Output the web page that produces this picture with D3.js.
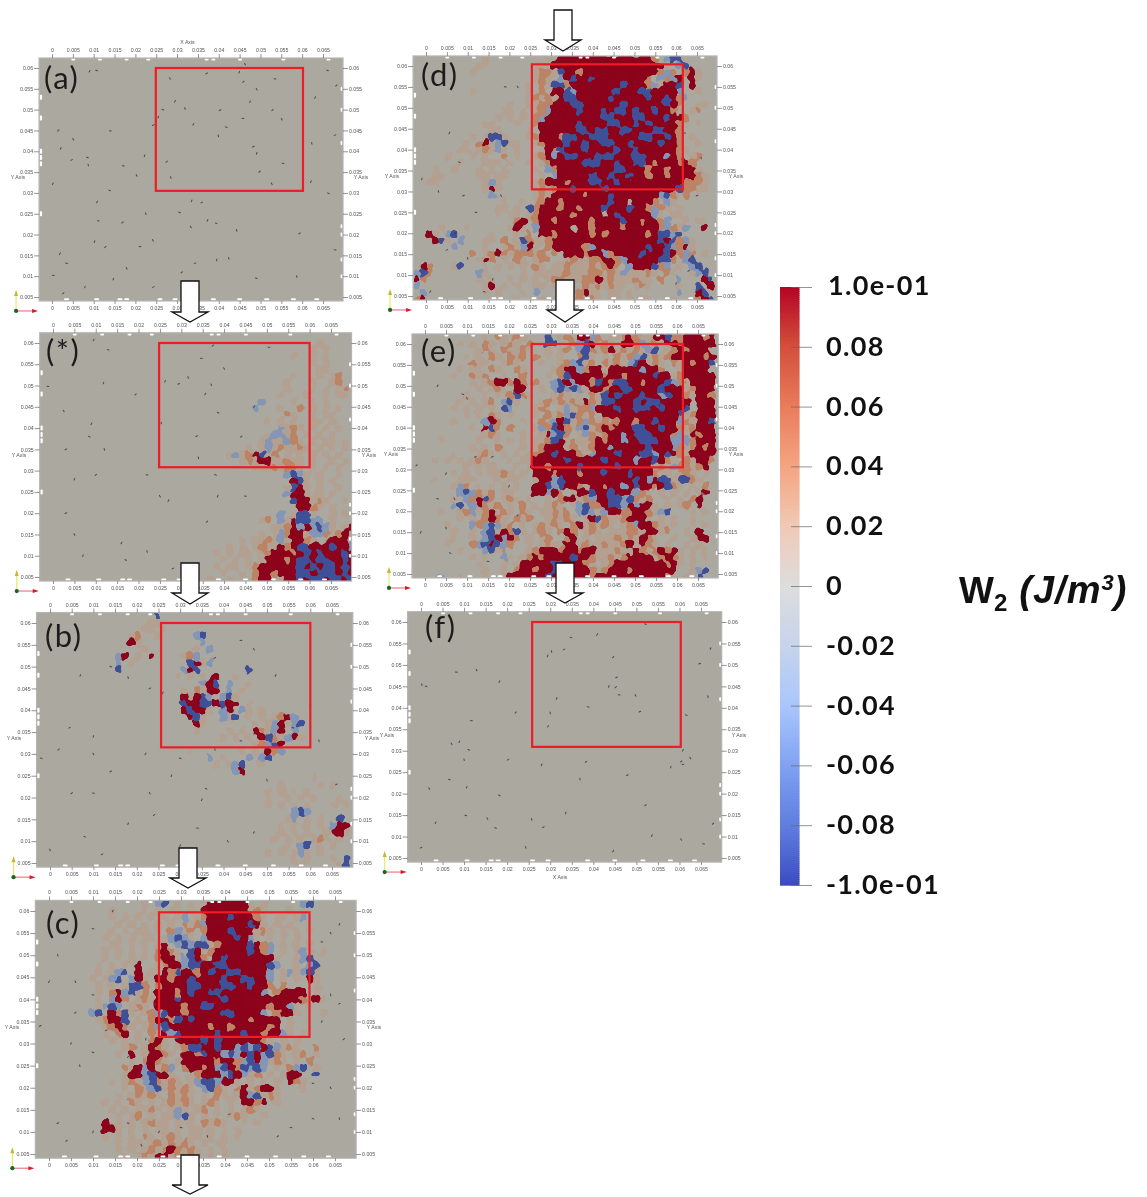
<!DOCTYPE html>
<html><head><meta charset="utf-8">
<script src="https://cdn.jsdelivr.net/npm/d3@7/dist/d3.min.js"></script>
<style>
html,body{margin:0;padding:0;background:#fff}
svg{display:block}
.tick text{font-family:"Liberation Sans",sans-serif;font-size:5.2px;fill:#555}
.tick line{stroke:#666;stroke-width:.7}
.domain{display:none}
</style></head><body>
<svg id="chart" width="1147" height="1197"></svg>
<script>
// ---------- data ----------
const xTicks=[0,0.005,0.01,0.015,0.02,0.025,0.03,0.035,0.04,0.045,0.05,0.055,0.06,0.065];
const yTicks=[0.005,0.01,0.015,0.02,0.025,0.03,0.035,0.04,0.045,0.05,0.055,0.06];
const tickText=v=>v===0?"0":String(+v.toFixed(3));
const barTicks=[0.1,0.08,0.06,0.04,0.02,0,-0.02,-0.04,-0.06,-0.08,-0.1];
const barLabels=["1.0e-01","0.08","0.06","0.04","0.02","0","-0.02","-0.04","-0.06","-0.08","-1.0e-01"];
const barColors=["#b40426","#d3503c","#e97c5c","#f4a582","#f0c9b5","#dddddd","#c6d4ec","#aac6fb","#81a2f2","#5f7de0","#3b4cc0"];
const classValues={"-":0.01,"l":-0.04,"+":0.036,"R":0.1,"B":-0.088};
const classOrder=["-","l","+","R","B"];
const panelNames=["a","*","b","c","d","e","f"];
const panelLabels=["(a)","(*)","(b)","(c)","(d)","(e)","(f)"];
// red windows: xmin,xmax,ymin,ymax
const window_a=[0.0249,0.0602,0.0305,0.06];
const window_star=[0.0248,0.0600,0.0308,0.06];
const window_b=[0.0256,0.0600,0.0315,0.06];
const window_c=[0.0250,0.0592,0.0315,0.0597];
const window_d=[0.0254,0.0616,0.0305,0.0604];
const window_e=[0.0254,0.0614,0.0305,0.0600];
const window_f=[0.0258,0.0603,0.0309,0.0600];
// specks, in thousandths of an axis unit
const specks_a=[[9,59.2],[10.7,59.4],[28.3,57.5],[37.1,58.7],[44.9,59],[45.9,56.7],[53.5,57.4],[49.1,54.9],[29.5,52],[26.6,50],[31.9,50.3],[40.3,49.9],[47.5,51.9],[52.9,49.9],[45.8,47.9],[55.1,47.7],[33.9,46.5],[41.8,45.8],[39.9,43.7],[24.3,46.3],[25.5,48.2],[1.5,45],[14,44.9],[5.1,42.9],[2.1,40.7],[8.5,38.5],[8.7,36.7],[4.7,37.9],[22.2,38.9],[27.5,37.5],[17.1,36.5],[20.3,34.2],[0.2,32.2],[13.8,30.6],[28.5,33.7],[48.3,41.1],[49.1,39.5],[49.8,35.1],[55.4,37.1],[52.7,32.2],[62.1,32.7],[66.3,29.9],[62.3,41.9],[67.9,43.9],[63.1,52.9],[68.2,55.8],[66.1,59.4],[46.3,60.9],[10.8,27.8],[30.6,25.3],[22.5,25],[35.9,27.7],[33.5,28.1],[16.9,22.9],[11.1,23.3],[33.3,21.8],[37.3,23.4],[39.4,22.7],[44.3,21],[59.4,20.3],[10.2,18.3],[12.8,17],[21.1,17.1],[24.2,18.6],[1.9,15.4],[3.5,13.1],[42.4,14.3],[34.3,13.1],[39.5,13.9],[31.1,10.9],[0.3,10.2],[17.9,11.9],[14.7,9.3],[49,9.5],[58.7,9.9],[24.3,7.4],[7.9,7.4],[2.7,5.9],[67.9,16.3]];
const specks_star=[[9.5,60.7],[12.9,58.4],[31.6,51.9],[29.4,50.4],[26.2,51],[37.4,59.4],[34.7,56.4],[37,50.2],[35.6,48],[38.6,43.6],[25.3,41.2],[33.6,38.1],[11.8,50.6],[19.3,47.9],[-1.2,49.8],[2.5,44],[9,41],[8.5,38],[12,35],[3,35],[5,28],[10,29],[22,29],[25,24],[27,23],[38,29],[34,33],[3,20],[38.5,24],[36,18],[45,24],[5,15],[16,13],[17,9],[22,11],[28,7],[7,10],[44,38],[50.5,59],[40,54],[47,45]];
const specks_b=[[7,48],[14,50],[18,47.5],[23,45],[26,44],[38,52],[44,56],[47,54],[52,48],[56,36],[62,33],[4.5,36],[10,34],[2,31],[-2,29],[10,30],[22,30],[30,29],[38,31],[14,26],[28,25],[5,21],[10,21],[23,21],[35,19.5],[36,22],[50,24],[66,23],[18,14],[24,16],[34,13],[41,10],[47,12],[8,11],[0,8],[12,7],[30,9],[54,36],[44,33],[60,41]];
const specks_c=[[14.5,60],[10,56],[2,50],[-2,34],[5,30],[6,37],[10,41],[6,44],[0,44],[10,28],[7,25],[13,33],[22,31],[18,27],[62,53],[64,55],[66,57],[60,40],[64,41],[66,39],[62,35],[67,31],[60,21],[64,20],[55,23],[60,13],[66,13],[2,12],[10,10],[4,8],[18,12],[21,7],[25,10],[30,11],[36,9],[41,14],[46,16],[52,9],[55,11]];
const specks_d=[[5.6,44],[8,37],[3,30],[9,29],[-1,33],[7,20],[19,55],[22,55],[58,46],[62,44],[66,38],[65,29],[60,8],[63,11],[12,25],[18,29],[1,6],[14,6],[10,14],[5,16],[16,9]];
const specks_e=[[3,50],[9,48],[10,47],[16,33],[5,29],[-2,31],[3,23],[7,23],[-1,15],[6,10],[5,16],[12,33],[20,26],[22,19],[15,8],[24,8]];
const specks_f=[[40.9,57.1],[34.8,56.4],[30.3,53.1],[33.2,53.6],[29.4,52.1],[44.6,51.8],[8.2,48.3],[12.9,48.8],[18.2,46.1],[1.2,45],[0.2,45.4],[45.4,47.1],[43.6,45],[45.2,44.8],[46,43],[49.8,42.9],[31.5,42.2],[38.8,40.2],[30,38.8],[50.8,39.1],[29.5,35.7],[22,38.9],[11.7,37],[7.1,31.6],[8.9,32.1],[11.1,30.2],[10,27.9],[20.2,27.9],[28,26.7],[38.3,27.4],[6.6,23.3],[1.9,21.2],[10.6,21.5],[18.2,19.6],[36.9,23.4],[47.9,24.3],[58,26.2],[60.4,27.5],[60.8,26.8],[62.5,28.3],[60.8,30.1],[61.6,38.3],[66.6,42.6],[64.7,50.3],[67.2,53.8],[52.1,17.3],[10.4,14.9],[15.4,14.2],[3.4,13.2],[17.3,12],[24.3,7.5],[0,7.4],[53.6,10.2],[67.8,13],[65.6,8.3],[60.4,9.3],[44.6,6.6],[52.1,59.5],[25.7,14],[28.4,12.2],[33.6,15.5]];
const speckAngles=[-60,20,75,-25,110,-40,10,60];
// white flecks at the mesh edge, shared by all panels
const edgeTop=[5.1,11.5,17.9,23.1,37.1,38.7,45.1,55.5,66.3];
const edgeBottom=[3.5,10.7,16.3,17.9,25.9,29.5,38.7,45,51.5,57.9,63.5];
const edgeRight=[55,50,42,22,20,14,10];
const edgeLeft=[53,48,40,38.5,37,25];
// fields: rows run from y=0.0625 downwards, columns from x=-0.003 rightwards
const field_star=[
"................................................",
"...........................................-....",
"..........................................-.-...",
".......................................-..-.-...",
"..........................................-.-...",
"...........................................--...",
".......................................-...-.-+.",
"......................................-...-..-+.",
"......................................-...-.-.-+",
".....................................-...-..-.--",
"..................................l....-..-.-...",
".................................l...-..+.-.-.-.",
"......................................+-..-.--..",
"...................................-.-.-..--.-..",
".....................................l-+-.-.-.-.",
"...................................-ll-+.-.-.-..",
"..................................-l--l+-.-.--.-",
"................................-.-l-+--+-.-.-.-",
".............................-l-+RB-+.-.-.-.-.-.",
"...............................-+-RR--+--.-..-.-",
".................................---+-++-.-.-.-.",
"......................................lBl-.-..-.",
".......................................RB-.-.-..",
"......................................-BR-.-..-.",
"......................................lRR-.-.-..",
".......................................BRR-+-..-",
"........................................RR+-.-..",
".....................................l.-BB-..-.-",
"..................................-+.l-RBBll.-..",
"....................................--+RlRlBl-.-R",
"..................................-.-l+RR-ll+-+R-",
"...............................-.--+-l-RR+-.-RRR-",
".............................-.-.-+--R+RBBRRRBRRl",
"...........................-.-.--.-+RRR+RBRBRRRBR",
"............................-.-.-.-RRR+RBBRBBRRBR",
"...........................-.--.-+RRRRRRBRBRBBRBR",
"............................-..-.+RR+RRRBBRBBBRBR",
"..........................-..-...+RR.-RRBRBBRBBRB"];
const field_b=[
"..................B.............................",
".................--.............................",
"................--.-............................",
"..............-+..-.....lB......................",
"..............R-.........l......................",
"................-.......-.l.....................",
"............lR.-.R....-+l.......................",
"............l.-........BR-l.....................",
"............B.........lRB.......B...............",
".....................-.-.-.R..-.................",
".........................lRB.l..-...............",
"......................-.+-RR.l.-................",
"......................R-RBl.lB-.................",
"......................BRRBBRBRR.-...............",
"......................RBRR-.lR.l-.-.............",
".......................RB-..l-B.-.-.-+Rl........",
"........................R-.......-.-lR-lB.......",
"........................-....-.-.R+-lR.l........",
"............................-.-.-.RB+-lR-.......",
".................................-+lBR..........",
".......................-.......-.-.R+l..........",
"..........................l.-...l.lB............",
"...........................-.-lB..-.............",
"..............................lR................",
"..........................................-.....",
".....................................-.....-.-..",
"...................................-.-.-.-......",
"...................................-..-.-.-...-.",
"...................................-.-.-.-...-.-",
".......................................lBl......",
"......................................-l.-.-..B.",
".....................................-.-.-.-.lRR",
".....................................-.-.-..-RR-",
"....................................-.-.-.-+-.-.",
"......................................-.lB.-.-..",
"...................................-.-.-l-.-....",
".......................................-.-...-.B",
"........................................-.....-B"];
const field_c=[
"................-.lB.-.-.-RRRRRR-.-.....lB......",
"...........-....-.-.--.-.RRRRRRR-+-...-.-.......",
"...........-.-.-.-.-.-l.-+RRRBRRR+-.--.-l.......",
"............-.-.-.-.-.+-+lRRRRRRBR-.-.-.........",
"...........-.-.--.-.+l-+.+RRRBRRR-+-.-.-.-......",
"..........-.-.-.--.-lBl-.lRRRRBRl-.-.-.-........",
"...........--.-.-.-R.lBlBB-+RRRRBR+l.-.-.-......",
"..........-.-.-.-.+R+-.BR-+RRRRRBR+l.-.-l-.-....",
"..........-.-.-.-.+RR-lBR+.RBRRRRRRR-..-lB......",
".........-.-.-.R..-+RRlBBRRBBRRRRRRBl..-.lB.....",
".........-.-lB.R.-.R+BRR+RBRRBBRRRRl.-l-lB-.....",
"........-.-lB.lR-.RR+RRBRRRRBRRBBRRl.-.-.R-.....",
".........-.-.-BB+.+RRRRBBRRRBBRRBRR+.+....-.....",
".........-.+RlB-+.RRR+RBRRBBRRRRRRl.+RRRR.-.....",
".........-.lR+.-+-RRRBRRRRRRBRRRRRRRRRRR+-R-....",
".........-lBl.-+-.RRRR+RRBBRRRRRRRR+RRl-.-......",
"........lB.R+B-.-+lBRR+RRRRRBBRRRRl.+RR-...-....",
".........-+RRB.-.+RR+BRBRRRRRRRR+RRRR.-.........",
"..........-+R+-.-+lBRRRRRR+RR+RRRRR+R.-.........",
"..........-.+R.-.+-RlBRRRRRBRRRBRR+RRl-.-.......",
"...........-.-.-.+R-.RRRRBRBRRRRRR+-.-.-........",
".............-+.-R+-.-+BBRRBRRlBlBRBl-+-..+.....",
"............-.R.-RR+-.RR+BRRlBlRBRlB+-.-+.-.....",
"..............-.+R+-.-RRRRR+RR+lBRl-+-.-.+......",
".............+-RlR-+l.+RR+RlBR+BlBl.-.+lB.-.....",
".............-RRlBRR-..-+RRRlBRl-+.-.-RR..B.....",
"...........-.-+-lB+-+-.-lBBlRR-.-.-.-.R+-.......",
".............-.+-lB-+-+-.lB+-.+R-+RR-...-.......",
"............-.-+-+-.+-+-.-.+-.-RlB-+-...........",
"..........-.-.+-.-.-+-+-.-+-.-.RR+R.-...........",
"...........-.-.--+-.-l-.-+.-.-.-+-..............",
"............-.-+.-.--lB-.-.-.-+-..-.............",
"..........R.-.-.-+--.-.-.+-+-..-.-..............",
"..........RR-.-.-.--.-.--.-.-.-.................",
"..........-.-.-.+-.-+-.--.-.-.-.................",
"............-.--.-+-+-+-.-.--...................",
"............-.-.-+-+R+-+-.-.-...................",
".............-.-+-RR-+-+-.-.-..................."];
const field_d=[
"...........-.........-.RRRRRRRRRRRRRRR+.lBB.....",
"..........--........-.RRRRRRRRRRRRRRRRRR-.lB....",
".........-.........-++-BRR+RRRRRRRRRRRR+l+.+R-..",
"...................-+-.lRBRRBRRRRRRRR+.l+lR.R-..",
"..................-.+-BB+RRRRRRRRBRRR+l-RRB.R...",
".........-........-.+.RRBlRRRRRRBRRRBBRRRRl..-..",
"..................-+-+-RBBRRRRRBRRRRRBRRBR+l....",
"...............-..--++RRRBBRRRRRRBRRRRRRBR+..--.",
"..............--.-.-+lRRRRBRRRBRBBRBRRBRR+-.-+..",
".............-.-.-.+lRRRRRRRRRBBRRRBBRRRBRR+....",
"...........--...-..+RRRRRRBRRRRBBRRBRBRRRR+..-..",
"............--....-.RRRRRRBBRBBRRBBRRRBBRR+.....",
".........-.-BB-...-+RRR+BBRRBBBRRRRRBBRRBR+.-...",
"........-.+R-lB--..-+RRRBRRBRRBBRRBRRRRBRR+..-..",
".......--.-+-l-.-...-R+BRRRBRRRRBRRBRRRRRR+-....",
".....-...-.-..+.-..-+RlRBBRRRBBBRRRBBRRRlR+.-+..",
".......-...---.-..-.-+RRRRRBBBRRBRRBBR+RRR+R+...",
"...-..-...-.-.-....-.l+RRRRRRRRRBBRRR+RR+RRRR-..",
"...--.....--.--.....-.lRRRRRBRRBRRBRR+RR+RRRR+-.",
"..--.......-l-.....-+RRR+RRRBBRRBRRRRRRRRRR+++-.",
"...........-R-.....-+-+RRBRRRRBRRRRRRRRRRRB++--.",
"............l......-+-RRRRR+RRRBRRRRRRRlB+-+....",
"..............-..-.-+RR+RRRRRRRBRR.RRR+-l-......",
".............--.-.B+RRR+RR+RRRBRRRBRR+l+-.-.....",
".............-.--.-+RRRRR+RRRR.RBRRRRRl-.--.....",
"................+R-+RR+RRRRR+RRRRBRR+RR+l..-.--.",
"....-...-......-R-.lRRRRR.RR+RRRR+RRRRR+l+-l..R.",
"..R-.lB.....-...-.+.RR+RRRRR+R+RRRRRR+RBBlB.....",
"...RB-.l...--.+.-B+--+RRRRRRRRRRRRRRRRRBRB+l-...",
"......l....-..-+-lR-.+RRRRR+lRRRRRRRRBRRBl+R-...",
".........+.-+R+-+++-+.+.RRR+RRl+RRRRBRRRBR+l+.-.",
"..........-R+.-.+-.-++..-+--++RR+lRRRRRBB+.lB...",
".R+...-B...-.-.-.-.+-.--+---+-+R+.lRRRB+l.-.lB..",
"lB+.......l-.....-.-----+---++-+-l---+-.+-..-lB.",
"R+........-.-..-.-.-.-++---++R-+---+--.+..l...RB",
"l..........-R.-.-..--.-.+-.+-+-+--.-+-....-..B.R",
".l.........-.-...-.l...-+-+R--.--.-.......l..RB.",
"+R..............-...-...-.+.+-.--.-.--...-...+RB"];
const field_e=[
"...........-.+-.+-...B.-+.RRl+.--+R+--RRB++RRR+R",
".......-.-.+-.-+-.+..BB..+lBR-+-.RR+l-+-RR+RRRRR",
"..........-+-.+--+-..-.-+.lB+-+R-+-+-lB.-+R+RRR.",
"........-.-.+-.+-+.+.-.-..+B-.-.+-+lB-+-+RRRRR+R",
".........+--..-+-...-..-+lB-+.+-+-lBR-+-.+-R+RRB",
".......-.--.+-..+-....-+RRl+RR-RRRRRlRR+..-RRRR.",
"......-..+-+..-..+...-.+BRRRRR+RR+RRRRBRR-+RRRRR",
".........-.-+RR+R+.+..lBRlRR+BR+BBRR+RRRBl+-RRRR",
"..........-.-+-.RR..-.lBlBl-RR+RRBBRRRRBRRR-+RRR",
"........-..-.-.+B+-...-+-.-.+-BRBRRRBRRlBRR+-RR+",
".......-.-.-+.lB-...-+-+-+-R+-BBRRRBRBBRRRRR.RRR",
"......-.-.-.-.Bl...-+-.-l-++lRRRBRRBBBRBRRRB.RRR",
"........-.-.+-.-...-.+-+lB+-+.RRRRRRRRRRRRB-+RRR",
"......-....lR+...-..+-lRB-+l+-+-+RR+RRBRRRl+-RRB",
".........-.RB+.+...-l+BR+-lB-+R+RRRBBRRBRR+-+RRR",
"...........-+-...-..-RlB+.-l+-+RRlRBBBRRR+l-R+RR",
"....-.....-..-.-.-.--+BR-+--+R+RRlRRBBBRRlll+RRR",
".........-.-.+...-.-+RRR-+.-+RRlRRRRRBRRRl+-+R+R",
"......-...-+-.-.-.-+RRBRRR+-lRRRBRRRBBlRBR+-RRRR",
"...-.-.-.-+-...-.--RRRRRBRRRRRBRRRRlRRBR+-.+-RR+",
"........-.-.-...-.-RR+RRRRBRRRRRBRRRRR-+-l++-+R.",
"......-.-.-.--+-.-.RRR+RRR+RRRBRRRBRRR+--.-+-.-.",
"...-...---...-.--..-RRlBRRRRRRRRRRRBRlRBB-BB+-..",
"......-l+.-.-.-.-..RRBlBRR+-RR+RRlRBRR+RB+-.-.+.",
".......lBl+-+.--...RRlR+.-RRBRRBRRRl+-.-.-.-.-R.",
"......-.l+RB+.-+-.-..-.+RR-+lRRBBlB+-+..-.-.+R..",
"......lB.lR+-+.-.+.-.-+-.-lB++RBBlRlRR-.-.-+.R..",
"....-..-+l-+R-+-.+-.--+-+.lBl-lRR++RR+-lB...-.-.",
".......-.-.+R+-.+-+..-+-+-.-RB+--+RRR-.-.-..-...",
".....-...l+lBl-+.-.-+-+-.+R-+-+-.-+lRR+-.-..-.-.",
"......-..-.lB-R+B-.-+-.+R+.-+-.---++-RR-+..-.R..",
"......-..-.lBRlR+.-.-+..+R.-.---+-+-R+-..-..-RR.",
".....-...+lBRBl+..-.-+--RR-+--+--+R-R+-.-..-.-..",
".......-...lB-+...-+RRR+RR+RR---+--R+-+R+R-.-.-.",
".........-.-..l-.-+R+RRRRBRR+--+-+RRRR-+R+-.-.-.",
"..........-...-.-RRRRRBBRRR+-.-+RRRRRRRR+R-.-...",
"...........-..-.+RR+RRBRRRRR+-+RRR+RRRRRRR..-lB.",
"....l..-...-..-RRRRRRBRRRRRR+RRRRRRRRRRR+-.-.B.."];
const field_a=[],field_f=[];

// ---------- layout ----------
const layout={
 "a":{x:[52,323],y:[297,68],lx:44,ly:89,field:field_a,specks:specks_a,win:window_a,xTitle:"top",yl:12,yr:355,ym:179},
 "*":{x:[53,331],y:[577,343],lx:46,ly:362,field:field_star,specks:specks_star,win:window_star,yl:13,yr:363,ym:457},
 "b":{x:[50,332],y:[863,623],lx:45,ly:647,field:field_b,specks:specks_b,win:window_b,yl:8,yr:366,ym:740},
 "c":{x:[49,335],y:[1154,911],lx:46,ly:934,field:field_c,specks:specks_c,win:window_c,yl:6,yr:368,ym:1029},
 "d":{x:[426,697],y:[296,66],lx:421,ly:86,field:field_d,specks:specks_d,win:window_d,yl:386,yr:730,ym:178},
 "e":{x:[425,698],y:[574,344],lx:421,ly:362,field:field_e,specks:specks_e,win:window_e,yl:385,yr:730,ym:456},
 "f":{x:[421,701],y:[858,622],lx:425,ly:638,field:field_f,specks:specks_f,win:window_f,xTitle:"bottom",yl:381,yr:733,ym:737}
};
const arrows=[[190,281,312,322],[190,563,593,604],[188,848,878,888],[190,1155,1185,1194],[563,10,40,51],[565,280,310,322],[565,563,593,603]];
const shade=[0.775,0.76,0.72];

// ---------- colours ----------
const colorOf=d3.scaleLinear().domain(barTicks).range(barColors).interpolate(d3.interpolateRgb);
const shaded=v=>{const c=d3.rgb(colorOf(v));return d3.rgb(c.r*shade[0],c.g*shade[1],c.b*shade[2]).formatHex();};

const svg=d3.select("#chart");
const defs=svg.append("defs");
const f=defs.append("filter").attr("id","blob").attr("filterUnits","userSpaceOnUse").attr("x",0).attr("y",0).attr("width",1147).attr("height",1197).attr("color-interpolation-filters","sRGB");
f.append("feTurbulence").attr("type","fractalNoise").attr("baseFrequency",0.2).attr("numOctaves",2).attr("seed",4).attr("result","n");
f.append("feDisplacementMap").attr("in","SourceGraphic").attr("in2","n").attr("scale",9).attr("xChannelSelector","R").attr("yChannelSelector","G").attr("result","d");
f.append("feGaussianBlur").attr("in","d").attr("stdDeviation",1.1);
f.append("feComponentTransfer").append("feFuncA").attr("type","linear").attr("slope",6).attr("intercept",-2.5);
f.append("feGaussianBlur").attr("stdDeviation",0.55);
const soft=defs.append("filter").attr("id","soft").attr("x","-5%").attr("y","-5%").attr("width","110%").attr("height","110%");
soft.append("feGaussianBlur").attr("stdDeviation",0.3);

// ---------- panels ----------
const colW=0.0015,rowH=0.00155,colStart=-0.003,rowStart=0.0625;
panelNames.forEach((name,pi)=>{
  const L=layout[name];
  const x=d3.scaleLinear().domain([0,0.065]).range(L.x);
  const y=d3.scaleLinear().domain([0.005,0.06]).range(L.y);
  const g=svg.append("g").attr("class","panel");
  const fx0=x(-0.0031),fx1=x(0.0698),fy0=y(0.0624),fy1=y(0.00405);
  const cid="clip"+pi;
  defs.append("clipPath").attr("id",cid).append("rect").attr("x",fx0).attr("y",fy0).attr("width",fx1-fx0).attr("height",fy1-fy0);
  g.append("rect").attr("x",fx0).attr("y",fy0).attr("width",fx1-fx0).attr("height",fy1-fy0).attr("fill",shaded(0));
  // field
  const cells=[];
  L.field.forEach((row,r)=>{for(let c=0;c<row.length;c++){if(classValues[row[c]]!==undefined)cells.push({k:row[c],c,r});}});
  const clipG=g.append("g").attr("clip-path",`url(#${cid})`);
  if(cells.length) classOrder.forEach(k=>{
    clipG.append("g").attr("filter","url(#blob)").attr("fill",shaded(classValues[k]))
     .selectAll("rect").data(cells.filter(d=>d.k===k)).join("rect")
     .attr("x",d=>x(colStart+colW*d.c))
     .attr("y",d=>y(rowStart-rowH*d.r))
     .attr("width",d=>x(colStart+colW*(d.c+1))-x(colStart+colW*d.c)+0.4)
     .attr("height",d=>y(rowStart-rowH*(d.r+1))-y(rowStart-rowH*d.r)+0.4);
  });
  // specks
  g.append("g").attr("filter","url(#soft)").selectAll("line").data(L.specks).join("line")
    .attr("transform",(d,i)=>`translate(${x(d[0]/1000)},${y(d[1]/1000)}) rotate(${speckAngles[i%speckAngles.length]})`)
    .attr("x1",-0.9).attr("x2",0.9).attr("stroke","#3a3a3a").attr("stroke-width",1).attr("stroke-linecap","round").attr("opacity",.85);
  // flecks
  const fl=g.append("g").attr("fill","#fff");
  fl.selectAll(".t").data(edgeTop).join("rect").attr("class","t").attr("x",d=>x(d/1000)-2).attr("y",fy0+0.6).attr("width",4).attr("height",2).attr("rx",1);
  fl.selectAll(".b").data(edgeBottom).join("rect").attr("class","b").attr("x",d=>x(d/1000)-2.5).attr("y",fy1-2.6).attr("width",5).attr("height",2).attr("rx",1);
  fl.selectAll(".r").data(edgeRight).join("rect").attr("class","r").attr("x",fx1-2.4).attr("y",d=>y(d/1000)-2).attr("width",1.8).attr("height",4).attr("rx",.9);
  fl.selectAll(".l").data(edgeLeft).join("rect").attr("class","l").attr("x",fx0+0.6).attr("y",d=>y(d/1000)-2.5).attr("width",2.4).attr("height",5).attr("rx",1);
  // frame
  g.append("rect").attr("x",fx0).attr("y",fy0).attr("width",fx1-fx0).attr("height",fy1-fy0).attr("fill","none").attr("stroke","#b4b4b4").attr("stroke-width",1.2);
  // axes
  const ax=g.append("g").attr("filter","url(#soft)");
  ax.append("g").attr("transform",`translate(0,${fy0})`).call(d3.axisTop(x).tickValues(xTicks).tickFormat(tickText).tickSize(4).tickPadding(2));
  ax.append("g").attr("transform",`translate(0,${fy1})`).call(d3.axisBottom(x).tickValues(xTicks).tickFormat(tickText).tickSize(3).tickPadding(2));
  ax.append("g").attr("transform",`translate(${fx0},0)`).call(d3.axisLeft(y).tickValues(yTicks).tickFormat(tickText).tickSize(5).tickPadding(1));
  ax.append("g").attr("transform",`translate(${fx1},0)`).call(d3.axisRight(y).tickValues(yTicks).tickFormat(tickText).tickSize(5).tickPadding(1));
  const small=(s,tx,ty)=>ax.append("text").text(s).attr("x",tx).attr("y",ty).attr("text-anchor","middle")
     .attr("font-family","Liberation Sans").attr("font-size",5.2).attr("fill","#555");
  small("Y Axis",L.yl+6,L.ym);small("Y Axis",L.yr+6,L.ym);
  if(L.xTitle==="top")small("X Axis",(x(0)+x(0.065))/2,fy0-14);
  if(L.xTitle==="bottom")small("X Axis",(x(0)+x(0.065))/2-1,fy1+17);
  // red window
  const w=L.win;
  g.append("rect").attr("x",x(w[0])).attr("y",y(w[3])).attr("width",x(w[1])-x(w[0])).attr("height",y(w[2])-y(w[3]))
    .attr("fill","none").attr("stroke","#ee1c25").attr("stroke-width",2.2);
  // letter
  g.append("text").text(panelLabels[pi]).attr("x",L.lx).attr("y",L.ly)
    .attr("font-family","Lato,sans-serif").attr("font-size",31).attr("letter-spacing",1.5).attr("fill","#1c1c1c");
  // orientation triad
  const tx=fx0-23,ty=fy1+10;
  const tri=g.append("g");
  tri.append("line").attr("x1",tx).attr("x2",tx).attr("y1",ty).attr("y2",ty-17).attr("stroke","#e8e85a").attr("stroke-width",1.1);
  tri.append("path").attr("d",`M${tx-2},${ty-15}L${tx},${ty-21}L${tx+2},${ty-15}Z`).attr("fill","#c9b52a");
  tri.append("line").attr("x1",tx).attr("x2",tx+18).attr("y1",ty).attr("y2",ty).attr("stroke","#e8606a").attr("stroke-width",1);
  tri.append("path").attr("d",`M${tx+16},${ty-2}L${tx+22},${ty}L${tx+16},${ty+2}Z`).attr("fill","#d61e26");
  tri.append("circle").attr("cx",tx).attr("cy",ty).attr("r",2.1).attr("fill","#0d6b22");
});

// ---------- arrows ----------
svg.append("g").selectAll("path").data(arrows).join("path")
 .attr("d",d=>{const [c,t,s,b]=d;return `M${c-9},${t}H${c+9}V${s}H${c+18}L${c},${b}L${c-18},${s}H${c-9}Z`;})
 .attr("fill","#fff").attr("stroke","#111").attr("stroke-width",1.3);

// ---------- colour bar ----------
const barY=d3.scaleLinear().domain([0.1,-0.1]).range([287,885]);
const bar=svg.append("g");
bar.append("g").selectAll("rect").data(d3.range(300)).join("rect")
 .attr("x",780).attr("width",19.5)
 .attr("y",i=>barY(0.1-i*0.2/300)).attr("height",barY(0)-barY(0.2/300)+0.7)
 .attr("fill",i=>colorOf(0.1-(i+0.5)*0.2/300));
const barAxis=bar.append("g").attr("transform","translate(812,0)")
 .call(d3.axisLeft(barY).tickValues(barTicks).tickSize(21).tickFormat(""));
barAxis.selectAll("line").attr("stroke","#222").attr("stroke-width",1);
bar.append("g").selectAll("text").data(barTicks).join("text")
 .text((d,i)=>barLabels[i]).attr("x",d=>d<0?826:(d===0.1?828:826)).attr("y",d=>barY(d)+(d===0.1?-1:0)+9)
 .attr("font-family","Lato,sans-serif").attr("font-weight",700).attr("font-size",27).attr("letter-spacing",1.3).attr("fill","#111");
// title
const title=svg.append("text").attr("x",959).attr("y",603).attr("font-family","Liberation Sans,sans-serif").attr("font-weight",700).attr("fill","#111");
title.append("tspan").text("W").attr("font-size",37);
title.append("tspan").text("2").attr("font-size",24).attr("dy",8);
title.append("tspan").text("(J/m").attr("font-size",38).attr("font-style","italic").attr("letter-spacing",1).attr("dy",-8).attr("dx",12);
title.append("tspan").text("3").attr("font-size",22).attr("font-style","italic").attr("dy",-13);
title.append("tspan").text(")").attr("font-size",38).attr("font-style","italic").attr("dy",13);
</script>
</body></html>
